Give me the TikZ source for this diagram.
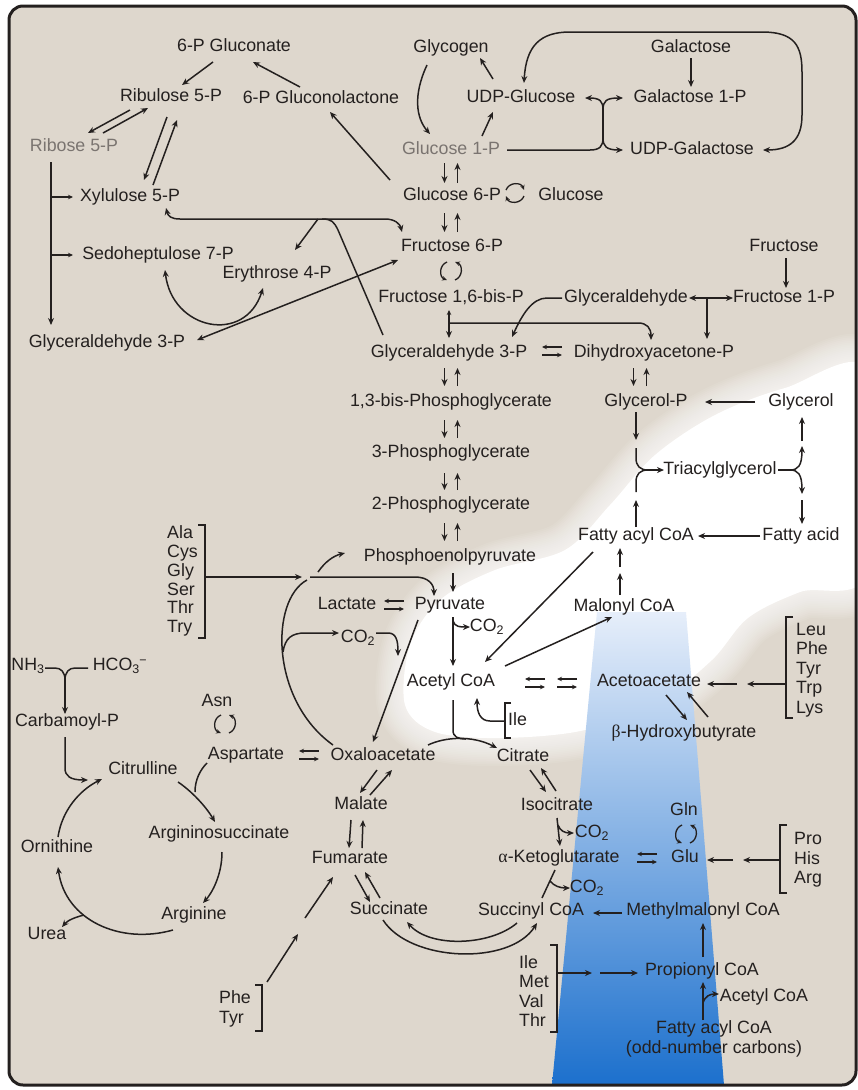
\documentclass[tikz,border=0pt]{standalone}
\usepackage{fontspec}
\setmainfont{Liberation Sans}
\newfontfamily\grk{Liberation Serif}
\usetikzlibrary{arrows.meta}
\definecolor{bgc}{RGB}{222,215,205}
\definecolor{ink}{RGB}{36,32,31}
\definecolor{fade}{RGB}{122,116,112}
\definecolor{blueb}{RGB}{28,112,205}
\definecolor{bluem}{RGB}{118,170,228}
\definecolor{bluet}{RGB}{230,238,250}
\newcommand\cotwo{CO\textsubscript{2}}
\newcommand\ud[3]{\draw[arr] (#1-6.5,#2) -- (#1-6.5,#3); \draw[arr] (#1+6.5,#3) -- (#1+6.5,#2);}
\newcommand\eqa[2]{\draw[sarr] (#1+10,#2-4) -- (#1-10,#2-4); \draw[sarr] (#1-10,#2+4) -- (#1+10,#2+4);}
\newcommand\cyv[2]{\draw[sarr] (#1-4,#2-9) .. controls (#1-12,#2-6) and (#1-12,#2+6) .. (#1-4,#2+9); \draw[sarr] (#1+4,#2+9) .. controls (#1+12,#2+6) and (#1+12,#2-6) .. (#1+4,#2-9);}
\newcommand\cyh[2]{\draw[sarr] (#1-9,#2-3) .. controls (#1-6,#2-11) and (#1+6,#2-11) .. (#1+9,#2-3); \draw[sarr] (#1+9,#2+3) .. controls (#1+6,#2+11) and (#1-6,#2+11) .. (#1-9,#2+3);}
\newcommand\glowpath{plot[smooth cycle,tension=0.55] coordinates {(405,705) (410,645) (440,600) (495,570) (565,550) (610,505) (655,455) (715,415) (785,388) (870,372) (870,570) (800,592) (748,618) (712,660) (660,700) (585,730) (500,738) (435,732)}}
\begin{document}
\begin{tikzpicture}[x=1pt,y=-1pt,
  font=\fontsize{17.8}{19.5}\selectfont,
  lbl/.style={inner sep=1pt,text=ink,text height=13pt,text depth=3.5pt},
  lst/.style={inner sep=0pt,text=ink,align=left,anchor=west},
  arr/.style={draw=ink,line width=1.5pt,-{Stealth[length=7pt,width=6pt]}},
  darr/.style={draw=ink,line width=1.5pt,{Stealth[length=7pt,width=6pt]}-{Stealth[length=7pt,width=6pt]}},
  ln/.style={draw=ink,line width=1.5pt},
  sarr/.style={draw=ink,line width=1.3pt,-{Stealth[length=5pt,width=4.5pt]}},
  brk/.style={draw=ink,line width=1.5pt}]
\useasboundingbox (0,0) rectangle (858,1090);
\fill[white] (0,0) rectangle (858,1090);
\fill[bgc,rounded corners=14pt] (9,6) rectangle (856,1085);
% white glow with a soft edge
\foreach \i in {1,...,16}{
 \pgfmathsetmacro\wd{3.5*\i}
 \draw[white,line width=\wd pt,opacity=0.08,line join=round] \glowpath;}
\fill[white] \glowpath;
% blue beam
\shade[top color=bluet,middle color=bluem,bottom color=blueb] (597,612) -- (686,612) -- (724,1085) -- (552,1085) -- cycle;

% ---------------- nodes
\node[lbl] (gluconate) at (234,47) {6-P Gluconate};
\node[lbl] (ru5p) at (171,97) {Ribulose 5-P};
\node[lbl] (lactone) at (321,99) {6-P Gluconolactone};
\node[lbl,text=fade] (r5p) at (74,147) {Ribose 5-P};
\node[lbl] (xu5p) at (130,197) {Xylulose 5-P};
\node[lbl] (s7p) at (158,255) {Sedoheptulose 7-P};
\node[lbl] (e4p) at (277,274) {Erythrose 4-P};
\node[lbl] (g3pl) at (107,343) {Glyceraldehyde 3-P};
\node[lbl] (glycogen) at (451,48) {Glycogen};
\node[lbl] (galactose) at (691,48) {Galactose};
\node[lbl] (udpglc) at (521,98) {UDP-Glucose};
\node[lbl] (gal1p) at (690,98) {Galactose 1-P};
\node[lbl,text=fade] (g1p) at (451,150) {Glucose 1-P};
\node[lbl] (udpgal) at (692,150) {UDP-Galactose};
\node[lbl] (g6p) at (452,196) {Glucose 6-P};
\node[lbl] (glucose) at (571,196) {Glucose};
\node[lbl] (f6p) at (452,247) {Fructose 6-P};
\node[lbl] (fructose) at (784,247) {Fructose};
\node[lbl] (fbp) at (451,298) {Fructose 1,6-bis-P};
\node[lbl] (glyald) at (626,298) {Glyceraldehyde};
\node[lbl] (f1p) at (784,298) {Fructose 1-P};
\node[lbl] (g3p) at (449,353) {Glyceraldehyde 3-P};
\node[lbl] (dhap) at (654,353) {Dihydroxyacetone-P};
\node[lbl] (bpg) at (451,402) {1,3-bis-Phosphoglycerate};
\node[lbl] (glycp) at (646,402) {Glycerol-P};
\node[lbl] (glycerol) at (801,402) {Glycerol};
\node[lbl] (pg3) at (451,453) {3-Phosphoglycerate};
\node[lbl] (tag) at (720,470) {Triacylglycerol};
\node[lbl] (pg2) at (451,505) {2-Phosphoglycerate};
\node[lbl] (facoa) at (636,536) {Fatty acyl CoA};
\node[lbl] (fa) at (801,536) {Fatty acid};
\node[lbl] (pep) at (450,557) {Phosphoenolpyruvate};
\node[lst,font=\fontsize{17.8}{18.9}\selectfont] (aa1) at (167,581) {Ala\\Cys\\Gly\\Ser\\Thr\\Try};
\node[lbl] (pyr) at (450,605) {Pyruvate};
\node[lbl] (lac) at (347,605) {Lactate};
\node[lbl] (malcoa) at (624,607) {Malonyl CoA};
\node[lbl] (co2a) at (487,627) {\cotwo};
\node[lbl] (co2b) at (358,638) {\cotwo};
\node[lst] (aa2) at (796,670) {Leu\\Phe\\Tyr\\Trp\\Lys};
\node[lbl] (nh3) at (28,666) {NH\textsubscript{3}};
\node[lbl] (hco3) at (120,666) {HCO\textsubscript{3}\kern-0.5pt\textsuperscript{−}};
\node[lbl] (accoa) at (451,682) {Acetyl CoA};
\node[lbl] (acac) at (649,682) {Acetoacetate};
\node[lbl] (asn) at (217,702) {Asn};
\node[lbl,anchor=west] (ile1) at (507,721) {Ile};
\node[lbl] (carb) at (67,722) {Carbamoyl-P};
\node[lbl] (bhb) at (684,733) {{\grk β}-Hydroxybutyrate};
\node[lbl] (asp) at (246,755) {Aspartate};
\node[lbl] (oaa) at (383,756) {Oxaloacetate};
\node[lbl] (cit) at (523,757) {Citrate};
\node[lbl] (citr) at (143,770) {Citrulline};
\node[lbl] (mal) at (361,805) {Malate};
\node[lbl] (isocit) at (557,806) {Isocitrate};
\node[lbl] (gln) at (684,811) {Gln};
\node[lbl] (co2c) at (592,833) {\cotwo};
\node[lbl] (argsuc) at (219,834) {Argininosuccinate};
\node[lbl] (orn) at (57,848) {Ornithine};
\node[lst] (aa3) at (794,860) {Pro\\His\\Arg};
\node[lbl] (fum) at (350,859) {Fumarate};
\node[lbl] (akg) at (559,858) {{\grk α}-Ketoglutarate};
\node[lbl] (glu) at (685,858) {Glu};
\node[lbl] (co2d) at (587,888) {\cotwo};
\node[lbl] (arg) at (194,915) {Arginine};
\node[lbl] (suc) at (389,910) {Succinate};
\node[lbl] (succoa) at (531,911) {Succinyl CoA};
\node[lbl] (mmcoa) at (703,911) {Methylmalonyl CoA};
\node[lbl] (urea) at (47,935) {Urea};
\node[lst] (aa4) at (519,991) {Ile\\Met\\Val\\Thr};
\node[lbl] (propcoa) at (702,971) {Propionyl CoA};
\node[lbl] (accoa2) at (764,997) {Acetyl CoA};
\node[lst,align=center,anchor=center] (oddfa) at (714,1039) {Fatty acyl CoA\\(odd-number carbons)};
\node[lst] (aa5) at (219,1009) {Phe\\Tyr};

% ---------------- brackets
\draw[brk] (198,525) -- (205,525) -- (205,638) -- (198,638);
\draw[brk] (793,617) -- (786,617) -- (786,718) -- (793,718);
\draw[brk] (511,703) -- (505,703) -- (505,738) -- (511,738);
\draw[brk] (787,825) -- (780,825) -- (780,893) -- (787,893);
\draw[brk] (550,945) -- (557,945) -- (557,1032) -- (550,1032);
\draw[brk] (255,985) -- (262,985) -- (262,1031) -- (255,1031);

% ---------------- pentose phosphate
\draw[arr] (213,62) -- (182,85);
\draw[arr] (300,87) -- (253,62);
\draw[arr] (390,180) -- (330,112);
\draw[arr] (130,110) -- (88,133);
\draw[arr] (103,133) -- (148,108);
\draw[arr] (167,117) -- (144,180);
\draw[arr] (153,185) -- (177,120);
\draw[arr] (51,162) -- (51,325);
\draw[sarr] (51,197) -- (73,197);
\draw[sarr] (51,255) -- (73,255);
\draw[darr] (166,208) .. controls (168,216) and (171,219) .. (180,219) -- (385,219) .. controls (395,219) and (400,224) .. (402,232);
\draw[arr] (318,219) -- (295,250);
\draw[ln] (322,219) .. controls (332,219) and (334,222) .. (338,230) -- (383,335);
\draw[darr] (165,270) .. controls (172,330) and (245,345) .. (263,288);
\draw[darr] (197,340) -- (398,260);

% ---------------- glycogen / galactose
\draw[arr] (427,65) .. controls (413,95) and (416,118) .. (430,134);
\draw[arr] (493,79) -- (480,58);
\draw[arr] (482,136) -- (493,112);
\draw[arr] (691,58) -- (691,87);
\draw[arr] (603,110) .. controls (603,101) and (600,98) .. (585,98);
\draw[arr] (603,110) .. controls (603,101) and (606,98) .. (623,98);
\draw[ln] (603,110) -- (603,138);
\draw[ln] (507,150) -- (590,150) .. controls (600,150) and (603,146) .. (603,138);
\draw[arr] (603,138) .. controls (603,146) and (606,150) .. (623,150);
\draw[darr] (524,83) .. controls (526,46) and (540,32) .. (570,32) -- (762,32) .. controls (795,32) and (802,46) .. (802,72) -- (802,115) .. controls (802,140) and (790,150) .. (763,150);
\cyh{515}{193}
\cyv{451}{271}

% ---------------- glycolysis
\ud{451}{163}{183}
\ud{451}{213}{232}
\draw[sarr] (449,323) -- (449,310);
\draw[arr] (449,323) -- (449,338);
\draw[arr] (449,323) -- (638,323) .. controls (647,323) and (651,328) .. (651,340);
\draw[arr] (562,298) -- (547,298) .. controls (532,298) and (522,315) .. (512,337);
\draw[darr] (689,298) -- (733,298);
\draw[arr] (707,298) -- (707,339);
\draw[arr] (786,258) -- (786,288);
\eqa{552}{351}
\ud{451}{368}{386}
\ud{451}{420}{438}
\ud{451}{473}{490}
\ud{451}{523}{541}
\ud{640}{368}{386}

% ---------------- lipids
\draw[arr] (755,402) -- (705,402);
\draw[arr] (636,412) -- (636,440);
\draw[ln] (636,448) -- (636,458) .. controls (636,466) and (640,470) .. (648,470);
\draw[ln] (636,492) -- (636,482) .. controls (636,474) and (640,470) .. (648,470);
\draw[arr] (648,470) -- (664,470);
\draw[arr] (636,527) -- (636,500);
\draw[ln] (778,470) -- (790,470);
\draw[arr] (790,470) .. controls (798,470) and (802,466) .. (802,446);
\draw[arr] (790,470) .. controls (798,470) and (802,474) .. (802,494);
\draw[arr] (802,441) -- (802,417);
\draw[arr] (802,500) -- (802,524);
\draw[arr] (760,536) -- (698,536);
\draw[arr] (620,595) -- (620,573);
\draw[arr] (620,567) -- (620,548);
\draw[arr] (593,552) -- (485,662);
\draw[arr] (505,666) -- (612,617);
\draw[arr] (666,695) -- (687,720);
\draw[arr] (708,717) -- (687,692);
\eqa{535}{683}
\eqa{567}{683}
\draw[arr] (786,684) -- (747,684);
\draw[arr] (737,684) -- (707,684);

% ---------------- pyruvate
\draw[arr] (453,573) -- (453,592);
\draw[arr] (453,617) -- (453,666);
\draw[arr] (453,621) .. controls (455,627) and (460,627) .. (470,627);
\draw[arr] (418,620) -- (373,742);
\eqa{394}{605}
\draw[arr] (205,577) -- (302,577);
\draw[arr] (310,577) -- (415,577) .. controls (428,577) and (434,584) .. (434,596);
\draw[arr] (318,572) .. controls (325,562) and (333,556) .. (345,553);
\draw[ln] (333,745) .. controls (270,700) and (270,600) .. (307,580);
\draw[arr] (283,652) .. controls (285,638) and (292,633) .. (305,633) -- (339,633);
\draw[arr] (376,633) -- (388,633) .. controls (396,633) and (398,640) .. (398,656);

% ---------------- TCA
\draw[ln] (453,700) -- (453,730) .. controls (453,737) and (458,739) .. (466,739);
\draw[arr] (428,745) .. controls (445,737) and (472,735) .. (497,748);
\draw[arr] (505,721) -- (490,721) .. controls (480,721) and (477,712) .. (477,698);
\draw[arr] (530,770) -- (546,792);
\draw[arr] (556,791) -- (541,768);
\draw[arr] (557,818) -- (560,846);
\draw[arr] (558,825) .. controls (560,831) and (565,833) .. (574,833);
\draw[ln] (555,870) -- (542,898);
\draw[arr] (550,881) .. controls (554,886) and (560,888) .. (570,888);
\eqa{647}{858}
\cyv{686}{834}
\draw[arr] (780,860) -- (743,860);
\draw[arr] (733,860) -- (707,860);
\draw[arr] (622,913) -- (593,913);
\draw[arr] (703,957) -- (703,923);
\draw[arr] (703,1020) -- (703,982);
\draw[arr] (703,1003) .. controls (705,996) and (710,994) .. (719,994);
\draw[arr] (557,973) -- (592,973);
\draw[arr] (600,973) -- (638,973);
\draw[arr] (517,923) .. controls (490,946) and (430,948) .. (407,922);
\draw[arr] (383,920) .. controls (410,962) and (510,966) .. (537,923);
\draw[arr] (377,770) -- (360,793);
\draw[arr] (370,795) -- (392,770);
\draw[arr] (351,820) -- (349,848);
\draw[arr] (362,848) -- (363,820);
\draw[arr] (355,875) -- (370,902);
\draw[arr] (380,898) -- (365,872);
\draw[arr] (267,982) -- (298,934);
\draw[arr] (305,918) -- (333,877);
\eqa{309}{755}

% ---------------- urea cycle
\cyv{225}{724}
\draw[ln] (45,668) -- (55,668) .. controls (61,668) and (65,672) .. (65,680);
\draw[ln] (88,668) -- (75,668) .. controls (69,668) and (65,672) .. (65,680);
\draw[arr] (65,680) -- (65,714);
\draw[arr] (65,737) -- (65,768) .. controls (65,776) and (70,780) .. (88,780);
\draw[arr] (58,837) .. controls (62,810) and (80,790) .. (102,779);
\draw[ln] (207,763) .. controls (200,770) and (195,780) .. (195,792);
\draw[arr] (178,782) .. controls (190,790) and (205,805) .. (215,822);
\draw[arr] (222,852) .. controls (222,875) and (212,893) .. (203,903);
\draw[arr] (173,930) .. controls (120,945) and (65,920) .. (58,867);
\draw[arr] (84,915) .. controls (76,917) and (68,920) .. (62,927);

% frame
\draw[ink,line width=3pt,rounded corners=14pt] (9,6) rectangle (856,1085);
\end{tikzpicture}
\end{document}
